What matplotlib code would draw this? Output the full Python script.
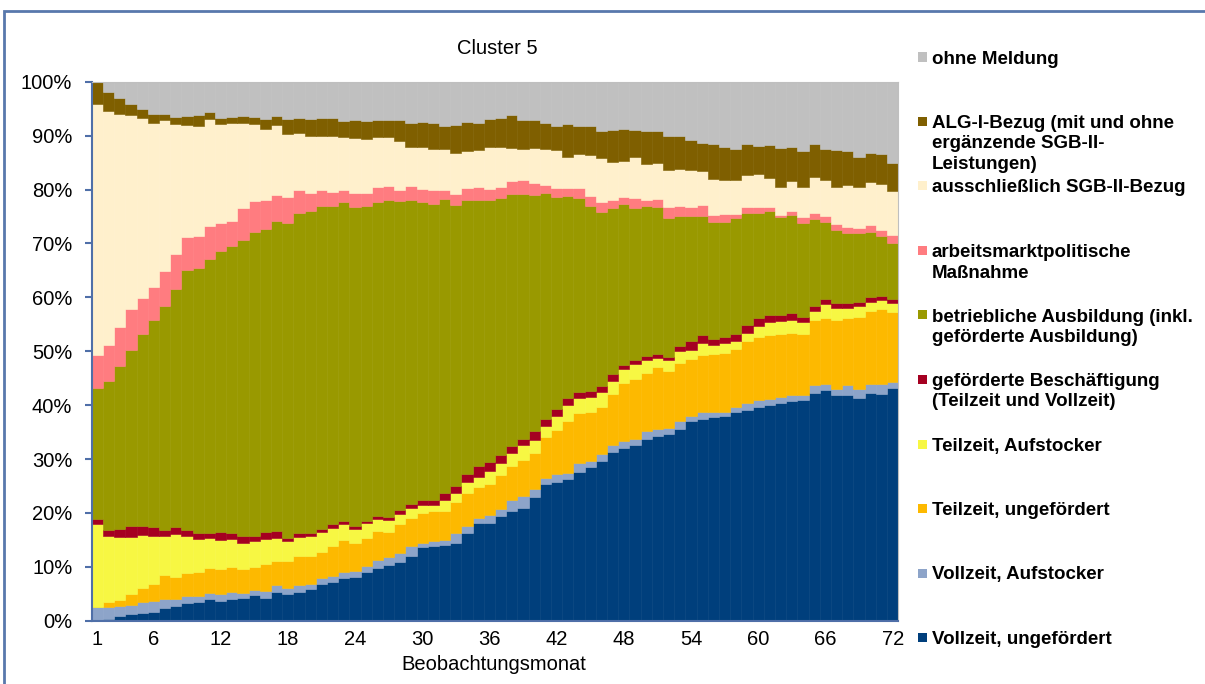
import numpy as np
import matplotlib
matplotlib.use("Agg")
import matplotlib.pyplot as plt
from matplotlib.patches import Rectangle

plt.rcParams["font.family"] = ["Liberation Sans", "DejaVu Sans"]

months = list(range(1, 73))
xtick_months = [1, 6, 12, 18, 24, 30, 36, 42, 48, 54, 60, 66, 72]

# shares in % per month, bottom of the stack first
vz_ungef = [0.2, 0.4, 0.9, 1.2, 1.4, 1.7, 2.4, 2.8, 3.2, 3.4, 4.0, 3.7, 4.1, 4.3, 4.8, 4.3, 5.3, 4.9, 5.4, 5.8, 6.8, 7.2, 7.9, 8.2,
            9.1, 9.7, 10.3, 11.0, 12.1, 13.6, 13.9, 14.0, 14.5, 16.2, 18.2, 18.1, 19.4, 20.4, 21.0, 22.9, 25.3, 25.8, 26.4, 27.5, 28.5, 29.7, 31.4, 32.0, 32.6, 33.7,
            34.3, 34.6, 35.6, 37.1, 37.4, 37.7, 38.0, 38.7, 39.1, 39.7, 40.0, 40.5, 40.8, 40.9, 42.3, 42.8, 41.9, 41.9, 41.3, 42.3, 42.0, 43.1]
vz_aufst = [2.3, 2.2, 1.9, 1.8, 2.1, 1.9, 1.7, 1.2, 1.4, 1.2, 1.1, 1.2, 1.3, 0.8, 0.9, 1.3, 1.3, 1.1, 1.2, 1.1, 1.1, 1.1, 1.2, 1.1,
            1.0, 1.6, 1.6, 1.6, 1.8, 0.9, 0.9, 1.0, 1.7, 1.4, 0.8, 1.5, 1.3, 2.1, 2.1, 1.5, 1.1, 1.4, 1.1, 1.7, 1.1, 1.2, 1.2, 1.4, 1.2, 1.5,
            1.3, 1.2, 1.5, 0.9, 1.3, 1.1, 0.8, 1.0, 1.4, 1.2, 1.1, 1.0, 1.1, 1.0, 1.4, 1.1, 1.0, 1.8, 1.6, 1.6, 1.9, 1.2]
tz_ungef = [0.0, 0.8, 1.0, 1.9, 2.5, 3.2, 4.4, 4.2, 4.3, 4.4, 4.7, 4.7, 4.6, 4.5, 4.2, 5.0, 4.5, 5.1, 5.4, 5.1, 4.8, 5.6, 5.9, 5.2,
            5.3, 5.3, 4.5, 5.3, 5.1, 5.4, 5.5, 5.4, 5.8, 6.1, 5.9, 5.7, 6.3, 6.3, 6.8, 6.7, 7.6, 8.2, 9.6, 9.4, 9.2, 8.7, 9.5, 10.8, 11.0, 10.9,
            11.5, 10.6, 10.8, 10.5, 10.6, 10.7, 10.9, 10.8, 11.5, 11.8, 11.9, 11.7, 11.5, 11.4, 12.0, 12.2, 12.9, 12.4, 13.5, 13.6, 13.9, 12.9]
tz_aufst = [15.4, 12.3, 11.8, 10.7, 9.9, 9.0, 7.3, 7.9, 6.9, 6.1, 5.6, 5.3, 5.1, 4.9, 4.8, 4.5, 4.3, 3.7, 3.5, 3.7, 3.7, 3.4, 2.9, 2.5,
            2.7, 2.2, 2.3, 2.0, 2.0, 1.6, 1.1, 2.0, 1.6, 2.0, 1.8, 2.5, 2.2, 2.3, 2.7, 2.5, 2.2, 2.6, 2.9, 2.8, 2.7, 2.8, 2.4, 2.5, 2.8, 2.4,
            1.7, 2.0, 2.2, 1.8, 2.3, 1.6, 1.8, 1.4, 1.4, 2.0, 2.4, 2.4, 2.4, 2.1, 1.8, 2.7, 2.3, 2.0, 1.9, 1.7, 1.7, 1.7]
gef_besch = [1.0, 1.1, 1.4, 2.0, 1.7, 1.5, 1.0, 1.2, 1.0, 1.2, 0.9, 1.5, 1.2, 1.2, 1.0, 1.4, 1.2, 0.6, 0.8, 0.6, 0.6, 0.6, 0.6, 0.6,
             0.4, 0.6, 0.6, 0.6, 0.7, 0.9, 1.1, 1.2, 1.3, 1.5, 2.0, 1.6, 1.5, 1.3, 1.2, 1.6, 1.2, 1.2, 1.4, 1.1, 1.1, 1.1, 1.3, 0.7, 0.8, 0.8,
             0.7, 0.6, 0.9, 1.5, 1.4, 1.1, 1.2, 1.4, 1.6, 1.4, 1.4, 1.1, 1.4, 1.0, 0.8, 0.8, 0.8, 0.8, 0.9, 0.8, 0.7, 0.8]
ausbildung = [24.2, 27.7, 30.3, 32.7, 35.6, 38.4, 41.5, 44.2, 48.3, 49.2, 50.8, 52.3, 53.3, 54.9, 56.4, 56.2, 57.6, 58.4, 59.4, 59.7, 59.9, 59.2, 59.1, 59.1,
              58.5, 58.3, 58.8, 57.6, 56.5, 55.3, 54.8, 54.6, 52.3, 50.9, 49.4, 48.8, 47.8, 46.9, 45.4, 43.8, 41.9, 39.5, 37.5, 35.9, 34.4, 32.4, 30.9, 29.9, 28.1, 27.7,
              27.3, 25.8, 24.2, 23.2, 22.2, 21.7, 21.3, 21.4, 20.8, 19.6, 19.2, 18.2, 18.2, 17.5, 16.2, 14.4, 13.5, 13.1, 12.7, 12.2, 11.2, 10.4]
massnahme = [6.2, 6.6, 7.1, 7.6, 6.6, 6.3, 6.5, 6.6, 6.0, 5.8, 6.2, 5.2, 4.6, 5.9, 5.8, 5.3, 4.8, 4.8, 4.3, 3.4, 3.0, 2.6, 2.3, 2.6,
             2.3, 2.7, 2.7, 2.0, 2.7, 2.4, 2.6, 1.7, 2.0, 2.2, 2.4, 2.0, 2.0, 2.4, 2.6, 2.2, 1.5, 1.5, 1.5, 1.8, 1.9, 1.8, 1.4, 1.4, 1.9, 1.2,
             1.4, 1.9, 1.8, 1.8, 2.0, 1.4, 1.5, 0.9, 1.1, 1.0, 0.7, 0.5, 0.7, 1.0, 1.1, 1.0, 1.2, 1.1, 1.0, 1.2, 1.1, 1.5]
sgb2 = [46.5, 43.5, 39.7, 36.0, 33.4, 30.3, 28.1, 24.1, 20.9, 20.4, 19.8, 18.4, 18.1, 15.9, 14.2, 13.3, 13.0, 11.7, 10.5, 10.6, 10.0, 10.3, 9.9, 10.2,
        10.0, 9.4, 9.1, 9.0, 7.2, 7.7, 7.7, 7.7, 7.5, 6.9, 6.9, 7.8, 7.3, 6.0, 5.8, 6.6, 6.8, 7.1, 5.7, 6.4, 7.5, 8.1, 7.1, 6.6, 7.6, 6.7,
        6.7, 7.0, 6.9, 6.8, 6.4, 6.6, 6.3, 6.3, 5.9, 6.1, 5.4, 5.2, 5.5, 5.7, 6.8, 6.8, 6.9, 7.7, 7.6, 7.9, 8.6, 8.2]
alg1 = [4.2, 3.4, 2.8, 1.9, 1.7, 1.8, 1.1, 1.2, 1.6, 2.1, 1.2, 1.1, 1.2, 1.3, 1.4, 1.7, 1.7, 2.7, 2.8, 3.0, 3.3, 3.4, 3.0, 3.4,
        3.4, 3.1, 3.0, 3.9, 4.4, 4.8, 4.9, 4.2, 5.3, 5.4, 5.1, 5.1, 5.5, 6.2, 5.3, 5.1, 4.7, 4.5, 6.1, 5.1, 5.5, 5.0, 5.9, 6.1, 5.0, 6.2,
        6.0, 6.3, 6.2, 5.5, 5.1, 6.5, 6.0, 5.7, 5.7, 5.3, 6.2, 7.1, 6.3, 6.7, 6.0, 5.7, 6.8, 6.3, 5.5, 5.4, 5.5, 5.1]
ohne = [0.0, 2.0, 3.1, 4.2, 5.1, 5.9, 6.0, 6.6, 6.4, 6.2, 5.7, 6.7, 6.5, 6.3, 6.5, 7.0, 6.3, 7.0, 6.7, 7.0, 6.8, 6.7, 7.2, 7.1,
        7.3, 7.1, 7.2, 7.2, 7.7, 7.4, 7.6, 8.2, 8.0, 7.5, 7.6, 7.0, 6.7, 6.2, 7.1, 7.2, 7.7, 8.2, 7.9, 8.3, 8.2, 9.2, 9.0, 8.7, 9.0, 9.1,
        9.1, 10.0, 10.0, 10.9, 11.4, 11.6, 12.2, 12.5, 11.6, 11.9, 11.7, 12.4, 12.2, 12.8, 11.6, 12.5, 12.7, 12.9, 14.0, 13.3, 13.4, 15.1]

series = [
    ("Vollzeit, ungefördert", vz_ungef, "#003F7C"),
    ("Vollzeit, Aufstocker", vz_aufst, "#8DA4C9"),
    ("Teilzeit, ungefördert", tz_ungef, "#FDB900"),
    ("Teilzeit, Aufstocker", tz_aufst, "#F7F743"),
    ("geförderte Beschäftigung\n(Teilzeit und Vollzeit)", gef_besch, "#A50021"),
    ("betriebliche Ausbildung (inkl.\ngeförderte Ausbildung)", ausbildung, "#999900"),
    ("arbeitsmarktpolitische\nMaßnahme", massnahme, "#FF7C80"),
    ("ausschließlich SGB-II-Bezug", sgb2, "#FFF0CC"),
    ("ALG-I-Bezug (mit und ohne\nergänzende SGB-II-\nLeistungen)", alg1, "#7F5F00"),
    ("ohne Meldung", ohne, "#C0C0C0"),
]

W, H = 1205, 684
fig = plt.figure(figsize=(W / 100, H / 100), dpi=100)

# chart frame (runs off the right and bottom edges)
fig.patches.append(Rectangle((4 / W, -0.05), 1.2, 1.05 - 11 / H, transform=fig.transFigure,
                             fill=False, edgecolor="#5878AC", lw=2.0))

ax = fig.add_axes([91.7 / W, (H - 620.7) / H, 806.6 / W, 539 / H])

# 100 % stacked: normalise every month
data = np.array([s[1] for s in series], dtype=float)
data = data / data.sum(axis=0) * 100.0
x = np.array(months)
bottom = np.zeros(len(months))
for (label, _, color), vals in zip(series, data):
    ax.bar(x, vals, bottom=bottom, width=1.0, color=color, edgecolor=color, linewidth=0.4)
    bottom += vals

ax.set_xlim(0.5, 72.5)
ax.set_ylim(0, 100)
ax.set_yticks(range(0, 101, 10))
ax.set_yticklabels([f"{v}%" for v in range(0, 101, 10)])
ax.set_xticks(xtick_months)
ax.tick_params(axis="y", direction="out", length=5, width=1.5, color="#4F6FA8", pad=9, labelsize=14.5)
ax.tick_params(axis="x", length=0, pad=7, labelsize=14.5)
for side in ("left", "bottom"):
    ax.spines[side].set_color("#4F6FA8")
    ax.spines[side].set_linewidth(1.5)
for side in ("top", "right"):
    ax.spines[side].set_color("#BFBFBF")
    ax.spines[side].set_linewidth(0.8)

fig.text(497 / W, 1 - 48 / H, "Cluster 5", ha="center", va="center", fontsize=14.5)
fig.text(494 / W, 1 - 664 / H, "Beobachtungsmonat", ha="center", va="center", fontsize=14.5)

# legend, top entry first
for k, (label, _, color) in enumerate(reversed(series)):
    yc = 57 + k * 64.5
    fig.patches.append(Rectangle((918 / W, 1 - (yc + 4.5) / H), 9 / W, 9 / H,
                                 transform=fig.transFigure, facecolor=color, edgecolor="none"))
    for j, line in enumerate(label.split("\n")):
        fig.text(932 / W, 1 - (yc + 6.5 + j * 20.5) / H, line, ha="left", va="baseline",
                 fontsize=13.5, fontweight="bold")

fig.savefig("out.png", dpi=100)
